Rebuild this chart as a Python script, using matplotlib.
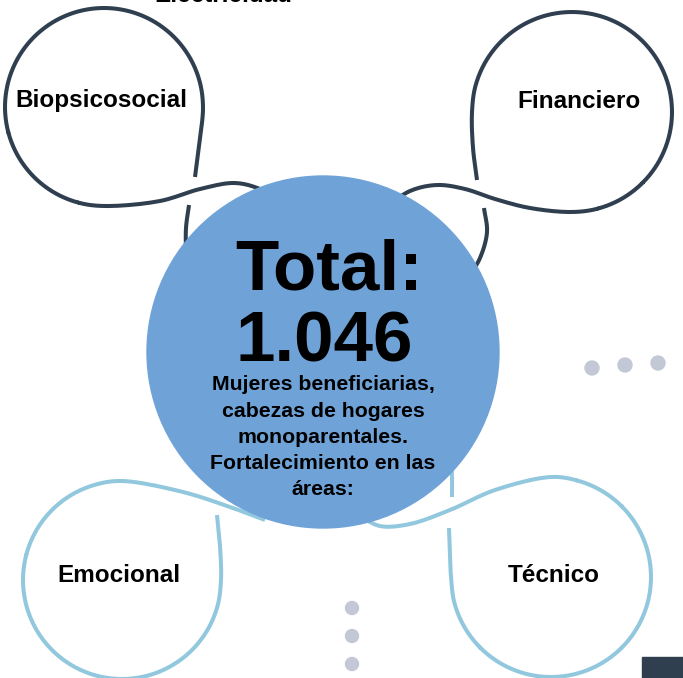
import numpy as np
import matplotlib
matplotlib.use('Agg')
import matplotlib.pyplot as plt
from matplotlib.patches import Circle, Rectangle

# Content of the infographic.
areas = ['Biopsicosocial', 'Financiero', 'Emocional', 'Técnico']
total = 1046
subtitle = ['Mujeres beneficiarias,', 'cabezas de hogares',
            'monoparentales.', 'Fortalecimiento en las', 'áreas:']
top_label = 'Electricidad'

# Layout (pixel coordinates, y grows downwards).
W, H = 683, 678
DARK = '#2f3f50'
LIGHT = '#92c8de'
BLUE = '#6fa3d8'
DOT = '#c3c8d6'
FONT = ['Liberation Sans', 'DejaVu Sans']

label_pos = [(101, 101), (579, 101), (119, 575), (554, 575)]
loop_color = [DARK, DARK, LIGHT, LIGHT]

# Each loop: piece A runs from behind the big circle up to the crossing;
# piece B starts after the crossing, runs along a circle (centre, radius,
# start/end angle) and leaves it as a wave that goes behind the big circle.
loops = [
    dict(a=[(186, 255), (186, 228), (189, 205)],
         pre=[(195, 177), (199, 146)],
         centre=(104, 107), r=99, th=(0, 270),
         post=[(160, 201), (200, 189), (235, 183), (260, 189), (285, 203)]),
    dict(a=[(468, 278), (480, 258), (487, 232), (484, 208)],
         pre=[(477, 180), (473, 148)],
         centre=(572, 112), r=100, th=(180, -90),
         post=[(530, 208), (495, 199), (465, 189), (437, 185), (410, 191),
               (385, 208)]),
    dict(a=[],
         pre=[(217, 515), (220, 546)],
         centre=(122, 580), r=99, th=(0, -270),
         post=[(183, 492), (230, 507), (265, 520)]),
    dict(a=[(451, 455), (452, 478), (452, 497)],
         pre=[(449, 528), (450, 553)],
         centre=(551, 577), r=100, th=(180, 450),
         post=[(495, 490), (450, 510), (410, 524), (380, 526), (358, 515)]),
]

dots_right = [(592, 368), (625, 365), (658, 363)]
dots_bottom = [(352, 608), (352, 636), (352, 664)]


def smooth(pts, n=12, alpha=0.5):
    """Centripetal Catmull-Rom curve through the given points."""
    p = np.asarray(pts, float)
    p = np.vstack([2 * p[0] - p[1], p, 2 * p[-1] - p[-2]])
    out = []
    for i in range(1, len(p) - 2):
        p0, p1, p2, p3 = p[i - 1], p[i], p[i + 1], p[i + 2]
        t0 = 0.0
        t1 = t0 + np.linalg.norm(p1 - p0) ** alpha
        t2 = t1 + np.linalg.norm(p2 - p1) ** alpha
        t3 = t2 + np.linalg.norm(p3 - p2) ** alpha
        t = np.linspace(t1, t2, n)[:, None]
        a1 = (t1 - t) / (t1 - t0) * p0 + (t - t0) / (t1 - t0) * p1
        a2 = (t2 - t) / (t2 - t1) * p1 + (t - t1) / (t2 - t1) * p2
        a3 = (t3 - t) / (t3 - t2) * p2 + (t - t2) / (t3 - t2) * p3
        b1 = (t2 - t) / (t2 - t0) * a1 + (t - t0) / (t2 - t0) * a2
        b2 = (t3 - t) / (t3 - t1) * a2 + (t - t1) / (t3 - t1) * a3
        out.append((t2 - t) / (t2 - t1) * b1 + (t - t1) / (t2 - t1) * b2)
    return np.vstack(out)


def loop_points(loop):
    cx, cy = loop['centre']
    th0, th1 = loop['th']
    th = np.radians(np.linspace(th0, th1, int(abs(th1 - th0) / 15) + 1))
    arc = np.column_stack([cx + loop['r'] * np.cos(th),
                           cy - loop['r'] * np.sin(th)])
    return np.vstack([loop['pre'], arc, loop['post']])


fig = plt.figure(figsize=(W / 100, H / 100), dpi=100)
ax = fig.add_axes([0, 0, 1, 1])
ax.set_xlim(0, W)
ax.set_ylim(H, 0)
ax.axis('off')

# Loops behind the big circle.
for loop, color in zip(loops, loop_color):
    for piece in (loop['a'], loop_points(loop)):
        if len(piece) < 2:
            continue
        xy = smooth(piece)
        ax.plot(xy[:, 0], xy[:, 1], color=color, lw=2.9,
                solid_capstyle='butt', zorder=2)

# Big circle.
ax.add_patch(Circle((323, 352), 176, color=BLUE, zorder=3))

# Decorative dots and corner block.
for x, y in dots_right:
    ax.add_patch(Circle((x, y), 7, color=DOT, zorder=2))
for x, y in dots_bottom:
    ax.add_patch(Circle((x, y), 6.5, color=DOT, zorder=2))
ax.add_patch(Rectangle((642, 657), 41, 21, color=DARK, zorder=2))

# Texts.
for name, (x, y) in zip(areas, label_pos):
    ax.text(x, y, name, ha='center', va='center', fontsize=17.5,
            fontweight='bold', family=FONT, zorder=4)

ax.text(223, 2, top_label, ha='center', va='baseline', fontsize=17.5,
        fontweight='bold', family=FONT, zorder=4)

total_txt = f'{total:,}'.replace(',', '.')
ax.text(329, 290, 'Total:', ha='center', va='baseline', fontsize=51,
        fontweight='bold', family=FONT, zorder=4)
ax.text(324, 362, total_txt, ha='center', va='baseline', fontsize=51,
        fontweight='bold', family=FONT, zorder=4)

for i, line in enumerate(subtitle):
    ax.text(323, 385 + i * 26.2, line, ha='center', va='center',
            fontsize=15.3, fontweight='bold', family=FONT, zorder=4)

fig.savefig('out.png', dpi=100)
